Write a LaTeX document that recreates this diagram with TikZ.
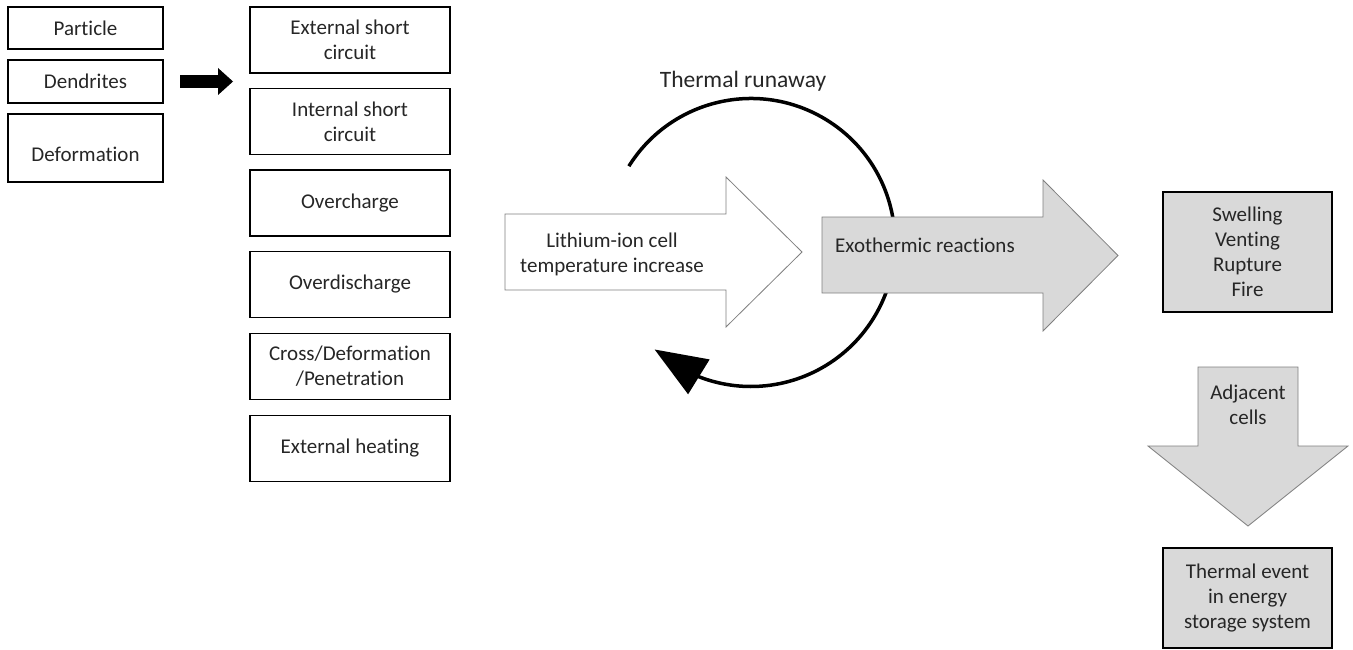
\documentclass[tikz,border=0pt]{standalone}
\usepackage{fontspec}
\setmainfont{Carlito}[Ligatures=NoCommon]
\usetikzlibrary{arrows.meta,bending}
\definecolor{shade}{HTML}{D9D9D9}
\definecolor{ink}{HTML}{262626}
\definecolor{rim}{HTML}{7F7F7F}
\newcommand{\labelsize}{\fontsize{21}{25}\selectfont}
\newcommand{\titlesize}{\fontsize{23.5}{28}\selectfont}

\begin{document}
\begin{tikzpicture}[x=1pt, y=-1pt,
    every node/.style={font=\labelsize, text=ink},
    causebox/.style={rectangle, draw=black, line width=1.6pt, minimum width=155pt,
        inner sep=0pt, align=center},
    failbox/.style={rectangle, draw=black, line width=1.6pt, minimum width=200pt,
        minimum height=66pt, inner sep=0pt, align=center},
    outcomebox/.style={rectangle, draw=black, line width=1.6pt, fill=shade,
        minimum width=169pt, inner sep=0pt, align=center},
    bigarrow/.style={draw=rim, line width=0.8pt, line join=miter},
    fatarrow/.style={line width=13pt, -{Triangle[length=15pt, width=27pt, line width=0pt]}},
    runaway/.style={line width=3.5pt, -{Triangle[length=52pt, width=41pt, line width=0pt, flex]}},
]
\useasboundingbox (0,0) rectangle (1353,650);

% Causes
\node[causebox, minimum height=42pt] (particle) at (85.5,28) {Particle};
\node[causebox, minimum height=43pt] (dendrites) at (85.5,81.5) {Dendrites};
\node[causebox, minimum height=68pt] (deformation) at (85.5,148)
    {\raisebox{-13.5pt}[0pt][0pt]{Deformation}};

% Arrow to failure modes
\coordinate (feedtail) at (180,81.5);
\coordinate (feedtip) at (233,81.5);
\draw[fatarrow] (feedtail) -- (feedtip);

% Failure modes
\node[failbox] (extshort) at (350,40) {External short\\circuit};
\node[failbox] (intshort) at (350,121.5) {Internal short\\circuit};
\node[failbox] (overcharge) at (350,203) {Overcharge};
\node[failbox] (overdischarge) at (350,284.5) {Overdischarge};
\node[failbox] (crush) at (350,366.5) {Cross/Deformation\\/Penetration};
\node[failbox] (heating) at (350,448.5) {External heating};

% Thermal runaway loop
\node[font=\titlesize] (runawaylabel) at (743,81) {Thermal runaway};
\coordinate (loopc) at (751,242.5);
\draw[runaway] (loopc) ++(-148:144) arc[start angle=-148, end angle=132, radius=144];

% Temperature increase
\draw[bigarrow, fill=white] (505,214) -- (726,214) -- (726,177) -- (802,252)
    -- (726,327) -- (726,290) -- (505,290) -- cycle;
\node[align=center] (tempup) at (612,254) {Lithium-ion cell\\temperature increase};

% Exothermic reactions
\draw[bigarrow, fill=shade] (822,217) -- (1043,217) -- (1043,180) -- (1118,255.5)
    -- (1043,331) -- (1043,293) -- (822,293) -- cycle;
\node[anchor=west, inner sep=0pt] (exo) at (835,245) {Exothermic reactions};

% Cell outcome
\node[outcomebox, minimum height=120pt] (outcome) at (1247.5,252)
    {Swelling\\Venting\\Rupture\\Fire};

% Propagation
\draw[bigarrow, fill=shade] (1198,367) -- (1298,367) -- (1298,446) -- (1348,446)
    -- (1248,526) -- (1148,446) -- (1198,446) -- cycle;
\node[align=center] (adjacent) at (1248,405) {Adjacent\\cells};

% System outcome
\node[outcomebox, minimum height=100pt] (event) at (1247.5,598)
    {Thermal event\\in energy\\storage system};

\end{tikzpicture}
\end{document}
